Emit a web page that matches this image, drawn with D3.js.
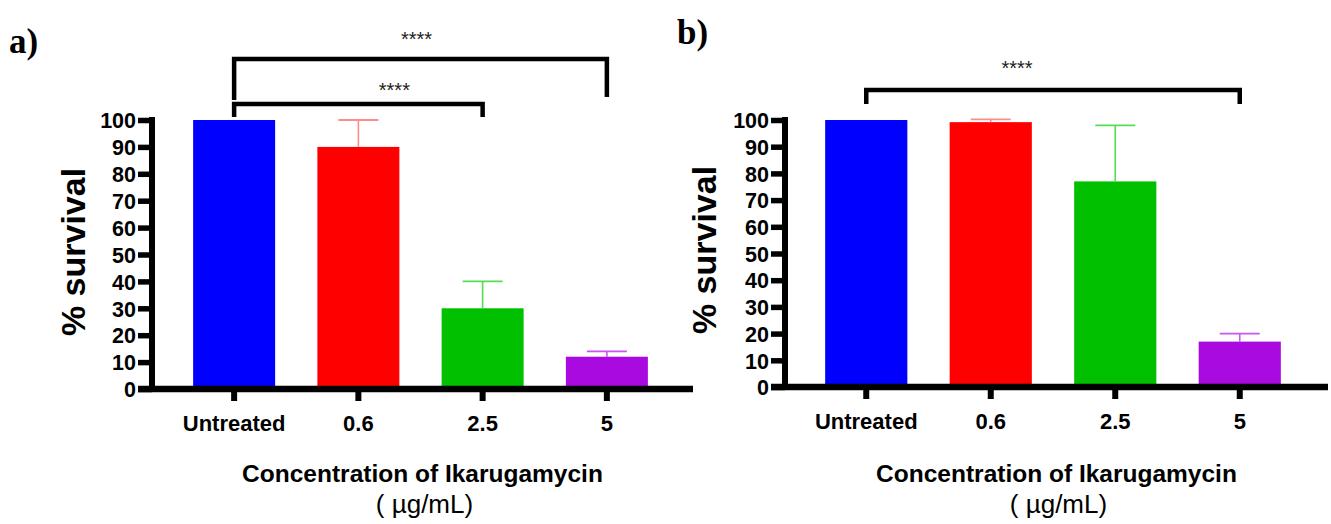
<!DOCTYPE html>
<html>
<head>
<meta charset="utf-8">
<script src="https://cdn.jsdelivr.net/npm/d3@7"></script>
<style>
  body { margin: 0; background: #fff; }
  svg { display: block; font-family: "Liberation Sans", Arial, sans-serif; }
</style>
</head>
<body>
<svg id="chart"></svg>
<script>
// data
const categories = ["Untreated", "0.6", "2.5", "5"];
const barColors = ["#0000ff", "#ff0000", "#00c000", "#a90ae0"];
const errColors = ["#0000ff", "#ff8c8c", "#55dd55", "#cc55f0"];
const yTicks = [0, 10, 20, 30, 40, 50, 60, 70, 80, 90, 100];

const survivalA = [100, 90, 30, 12];
const errorA = [0, 10, 10, 2];
const survivalB = [100, 99.2, 77, 17];
const errorB = [0, 1, 21, 3];

// comparisons: [from index, to index, label]
const compareA = [[0, 3, "****"], [0, 2, "****"]];
const compareB = [[0, 3, "****"]];

const W = 1331, H = 524;
const svg = d3.select("#chart").attr("width", W).attr("height", H);

function drawPanel(cfg) {
  const g = svg.append("g");

  const x = d3.scaleBand()
    .domain(categories)
    .range(cfg.xRange)
    .paddingInner(0.34)
    .paddingOuter(0.17);

  const y = d3.scaleLinear()
    .domain([0, 100])
    .range([cfg.y0, cfg.y100]);

  // bars
  g.selectAll("rect.bar")
    .data(cfg.values)
    .enter()
    .append("rect")
    .attr("class", "bar")
    .attr("x", (d, i) => x(categories[i]))
    .attr("y", d => y(d))
    .attr("width", x.bandwidth())
    .attr("height", d => y(0) - y(d))
    .attr("fill", (d, i) => barColors[i]);

  // upper error bars only
  const cx = i => x(categories[i]) + x.bandwidth() / 2;
  cfg.values.forEach((v, i) => {
    if (!cfg.errors[i]) return;
    const top = y(v + cfg.errors[i]);
    g.append("line")
      .attr("x1", cx(i)).attr("x2", cx(i))
      .attr("y1", y(v)).attr("y2", top)
      .attr("stroke", errColors[i]).attr("stroke-width", 1.6);
    g.append("line")
      .attr("x1", cx(i) - 20).attr("x2", cx(i) + 20)
      .attr("y1", top).attr("y2", top)
      .attr("stroke", errColors[i]).attr("stroke-width", 1.8);
  });

  // y axis
  const yAxis = d3.axisLeft(y)
    .tickValues(yTicks)
    .tickSize(14)
    .tickPadding(2);
  const ya = g.append("g")
    .attr("transform", `translate(${cfg.axisX},0)`)
    .call(yAxis);
  ya.select(".domain").remove();
  ya.append("line")
    .attr("x1", 0).attr("x2", 0)
    .attr("y1", y(100) - 3).attr("y2", y(0) + 3)
    .attr("stroke", "#000").attr("stroke-width", 6);
  ya.selectAll(".tick line").attr("stroke", "#000").attr("stroke-width", 5.5);
  ya.selectAll(".tick text")
    .attr("fill", "#000")
    .style("font-size", "21.5px")
    .style("font-weight", "bold")
    .attr("dy", "0.36em");

  // x axis
  const xAxis = d3.axisBottom(x).tickSize(12).tickPadding(14);
  const xa = g.append("g")
    .attr("transform", `translate(0,${cfg.y0})`)
    .call(xAxis);
  xa.select(".domain").remove();
  xa.append("line")
    .attr("x1", cfg.axisX - 14).attr("x2", cfg.xEnd)
    .attr("y1", 0).attr("y2", 0)
    .attr("stroke", "#000").attr("stroke-width", 6.5);
  xa.selectAll(".tick line").attr("stroke", "#000").attr("stroke-width", 6);
  xa.selectAll(".tick text")
    .attr("fill", "#000")
    .style("font-size", "22px")
    .style("font-weight", "bold");

  // significance brackets
  cfg.compare.forEach((c, k) => {
    const b = cfg.brackets[k];
    const x1 = cx(c[0]), x2 = cx(c[1]);
    g.append("path")
      .attr("d", `M${x1},${b.leftLeg}V${b.y}H${x2}V${b.rightLeg}`)
      .attr("fill", "none")
      .attr("stroke", "#000")
      .attr("stroke-width", 4.5);
    g.append("text")
      .attr("x", (x1 + x2) / 2 + b.labelDx)
      .attr("y", b.y - b.labelGap)
      .attr("text-anchor", "middle")
      .style("font-size", "20px")
      .attr("fill", "#222")
      .text(c[2]);
  });

  // axis titles
  g.append("text")
    .attr("transform", `translate(${cfg.yLabelX},${cfg.yLabelY}) rotate(-90)`)
    .attr("text-anchor", "middle")
    .attr("dominant-baseline", "central")
    .style("font-size", "34px")
    .style("font-weight", "bold")
    .text("% survival");

  const mid = (cfg.axisX + cfg.xEnd) / 2;
  g.append("text")
    .attr("x", mid).attr("y", 482)
    .attr("text-anchor", "middle")
    .style("font-size", "24.5px")
    .style("font-weight", "bold")
    .text("Concentration of Ikarugamycin");
  g.append("text")
    .attr("x", mid + 2).attr("y", 513)
    .attr("text-anchor", "middle")
    .style("font-size", "26px")
    .text("( µg/mL)");

  // panel letter
  g.append("text")
    .attr("x", cfg.letterX).attr("y", cfg.letterY)
    .style("font-family", "'Liberation Serif', serif")
    .style("font-size", "35px")
    .style("font-weight", "bold")
    .text(cfg.letter);
}

drawPanel({
  letter: "a)", letterX: 9, letterY: 53,
  values: survivalA, errors: errorA, compare: compareA,
  xRange: [172, 669], axisX: 152, xEnd: 693,
  y0: 389, y100: 120,
  yLabelX: 73, yLabelY: 252,
  brackets: [
    { y: 59, leftLeg: 100, rightLeg: 97, labelDx: -4, labelGap: 13 },
    { y: 104, leftLeg: 117, rightLeg: 117, labelDx: 36, labelGap: 7 }
  ]
});

drawPanel({
  letter: "b)", letterX: 677, letterY: 44,
  values: survivalB, errors: errorB, compare: compareB,
  xRange: [804, 1302], axisX: 785, xEnd: 1328,
  y0: 387, y100: 120,
  yLabelX: 704, yLabelY: 250,
  brackets: [
    { y: 90, leftLeg: 104, rightLeg: 104, labelDx: -36, labelGap: 15 }
  ]
});
</script>
</body>
</html>
